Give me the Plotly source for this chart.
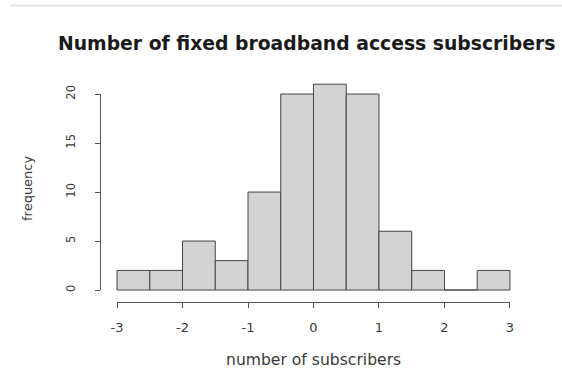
import plotly.graph_objects as go

# Histogram of standardised subscriber counts (bin width 0.5)
bin_left = [-3.0, -2.5, -2.0, -1.5, -1.0, -0.5, 0.0, 0.5, 1.0, 1.5, 2.0, 2.5]
counts = [2, 2, 5, 3, 10, 20, 21, 20, 6, 2, 0, 2]
bin_width = 0.5

x_ticks = [-3, -2, -1, 0, 1, 2, 3]
x_tick_labels = ["-3", "-2", "-1", "0", "1", "2", "3"]
y_ticks = [0, 5, 10, 15, 20]
y_tick_labels = ["0", "5", "10", "15", "20"]

title = "Number of fixed broadband access subscribers"
x_title = "number of subscribers"
y_title = "frequency"

W, H = 562, 369
ML, MR, MT, MB = 100, 36, 76, 67
PW, PH = W - ML - MR, H - MT - MB

# plot-region ranges (a little wider than the data, like base graphics)
x_range = [-3.26, 3.245]
y_range = [-1.22, 21.84]


def frac(v, r):
    return (v - r[0]) / (r[1] - r[0])


def px_x(p):
    return (p - ML) / PW


def px_y(p):
    return (H - MB - p) / PH


centers = [b + bin_width / 2 for b in bin_left]

fig = go.Figure()
fig.add_trace(go.Bar(
    x=centers, y=counts, width=bin_width,
    marker=dict(color="#d3d3d3", line=dict(color="#454545", width=1)),
    xaxis="x", yaxis="y", hoverinfo="skip", showlegend=False,
))
# zero-count bins are drawn as a flat segment on the baseline
for c, n in zip(centers, counts):
    if n == 0:
        fig.add_shape(type="line", xref="x", yref="y",
                      x0=c - bin_width / 2, x1=c + bin_width / 2, y0=0, y1=0,
                      line=dict(color="#555", width=1))

# carrier trace for the detached axes
fig.add_trace(go.Scatter(
    x=[x_ticks[0], x_ticks[-1]], y=[y_ticks[0], y_ticks[-1]],
    mode="markers", marker=dict(opacity=0), xaxis="x2", yaxis="y2",
    hoverinfo="skip", showlegend=False,
))

axis_font = dict(family="DejaVu Sans", color="#3a3a3a")

fig.update_layout(
    width=W, height=H,
    margin=dict(l=ML, r=MR, t=MT, b=MB, pad=0),
    paper_bgcolor="white", plot_bgcolor="rgba(0,0,0,0)",
    xaxis=dict(range=x_range, visible=False, domain=[0, 1]),
    yaxis=dict(range=y_range, visible=False, domain=[0, 1]),
    xaxis2=dict(
        domain=[frac(x_ticks[0], x_range), frac(x_ticks[-1], x_range)],
        range=[x_ticks[0], x_ticks[-1]], anchor="free", position=0,
        tickvals=x_ticks, ticktext=x_tick_labels,
        showline=True, linecolor="#555", linewidth=1,
        ticks="outside", ticklen=5, tickcolor="#555", tickwidth=1,
        showgrid=False, zeroline=False, ticklabelstandoff=8,
        tickfont=dict(size=13, **axis_font),
    ),
    yaxis2=dict(
        domain=[frac(y_ticks[0], y_range), frac(y_ticks[-1], y_range)],
        range=[y_ticks[0], y_ticks[-1]], anchor="free", position=0,
        tickvals=y_ticks, ticktext=y_tick_labels, tickangle=-90,
        showline=True, linecolor="#555", linewidth=1,
        ticks="outside", ticklen=5, tickcolor="#555", tickwidth=1,
        showgrid=False, zeroline=False, ticklabelstandoff=15,
        tickfont=dict(size=11.5, **axis_font),
    ),
    annotations=[
        dict(text=f"<b>{title}</b>", xref="paper", yref="paper",
             x=px_x(56), y=px_y(43), showarrow=False, xanchor="left",
             yanchor="middle",
             font=dict(family="DejaVu Sans", size=18.8, color="#1a1a1a")),
        dict(text=x_title, xref="paper", yref="paper",
             x=0.5, y=px_y(360), showarrow=False, xanchor="center",
             yanchor="middle", font=dict(size=15.6, **axis_font)),
        dict(text=y_title, xref="paper", yref="paper",
             x=px_x(27), y=px_y(188), showarrow=False, textangle=-90,
             xanchor="center", yanchor="middle",
             font=dict(size=13, **axis_font)),
    ],
    shapes=[
        dict(type="line", xref="paper", yref="paper",
             x0=px_x(10), x1=px_x(W), y0=px_y(5.5), y1=px_y(5.5),
             line=dict(color="#e2e2e2", width=2)),
    ],
)

fig.write_html("out.html")
